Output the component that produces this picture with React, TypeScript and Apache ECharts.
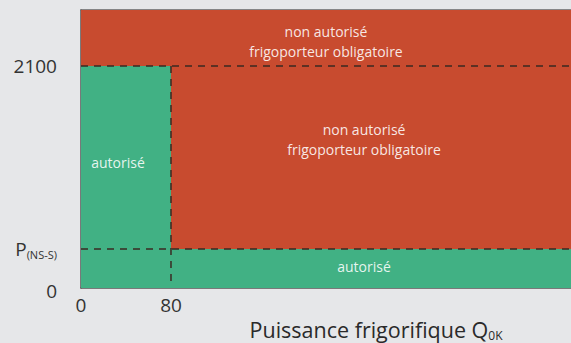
import React, { useEffect, useRef } from "react";
import * as echarts from "echarts";

// Axis extents
const xMax = 435.6;
const yMax = 2630;

// Tick values
const xTicks = [0, 80];
const yTicks = [0, 369, 2100];
const yTickLabels = ["{z|0}", "{p|P}{s|(NS-S)}", "2100"];

// Regions: [x0, y0, x1, y1, kind] kind 0 = non autorisé (red), 1 = autorisé (green)
const regions: number[][] = [
  [0, 0, xMax, yMax, 0],
  [0, 0, 80, 2100, 1],
  [0, 0, xMax, 369, 1],
];

// Dashed boundary lines: [x0, y0, x1, y1]
const dashedLines: number[][] = [
  [0, 2100, xMax, 2100],
  [0, 369, xMax, 369],
  [80, 2100, 80, 50],
];

// Region labels: [x, y]
const labelPoints: number[][] = [
  [217.8, 2332],
  [251.6, 1409],
  [32.9, 1192],
  [251.6, 199],
];
const labelTexts = [
  "non autorisé\nfrigoporteur obligatoire",
  "non autorisé\nfrigoporteur obligatoire",
  "autorisé",
  "autorisé",
];

const RED = "#c84b2f";
const GREEN = "#41b184";
const FONT = "'Open Sans', 'Noto Sans', sans-serif";

export default function App() {
  const ref = useRef<HTMLDivElement>(null);
  useEffect(() => {
    if (!ref.current) return;
    const chart = echarts.init(ref.current, undefined, { renderer: "svg" });
    chart.setOption({
      animation: false,
      backgroundColor: "#e6e7e9",
      grid: { left: 81, right: 0, top: 10, bottom: 55, containLabel: false, outerBoundsMode: "none" },
      xAxis: [
        {
          type: "value",
          min: 0,
          max: xMax,
          splitLine: { show: false },
          axisTick: { show: false },
          axisLine: { show: true, lineStyle: { color: "#555", width: 1.5 } },
          axisLabel: {
            customValues: xTicks,
            color: "#333",
            fontSize: 19,
            fontFamily: FONT,
            margin: 7,
            hideOverlap: false,
          },
          name: "{t|Puissance frigorifique Q}{s|0K}",
          nameLocation: "middle",
          nameGap: 29,
          nameTextStyle: {
            padding: [0, 0, 0, 100],
            rich: {
              t: { fontSize: 21.5, color: "#2a2a2a", fontFamily: FONT },
              s: { fontSize: 12, color: "#2a2a2a", fontFamily: FONT, padding: [11, 0, 0, 0] },
            },
          },
        },
        {
          type: "value",
          position: "top",
          min: 0,
          max: xMax,
          splitLine: { show: false },
          axisTick: { show: false },
          axisLabel: { show: false },
          axisLine: { show: true, lineStyle: { color: "#666", width: 1.5 } },
        },
      ],
      yAxis: {
        type: "value",
        min: 0,
        max: yMax,
        splitLine: { show: false },
        axisTick: { show: false },
        axisLine: { show: true, lineStyle: { color: "#555", width: 1.5 } },
        axisLabel: {
          customValues: yTicks,
          margin: 24,
          formatter: (v: number) => {
            const i = yTicks.indexOf(v);
            return i >= 0 ? yTickLabels[i] : "";
          },
          color: "#333",
          fontSize: 19,
          fontFamily: FONT,
          rich: {
            z: { fontSize: 19, color: "#333", fontFamily: FONT, padding: [6, 0, 0, 0] },
            p: { fontSize: 19, color: "#333", fontFamily: FONT },
            s: { fontSize: 11, color: "#333", fontFamily: FONT, padding: [12, 0, 0, 0] },
          },
        },
      },
      series: [
        {
          type: "custom",
          z: 1,
          renderItem: (params: any, api: any) => {
            const p0 = api.coord([api.value(0), api.value(1)]);
            const p1 = api.coord([api.value(2), api.value(3)]);
            return {
              type: "rect",
              shape: {
                x: Math.min(p0[0], p1[0]),
                y: Math.min(p0[1], p1[1]),
                width: Math.abs(p1[0] - p0[0]),
                height: Math.abs(p1[1] - p0[1]),
              },
              style: { fill: api.value(4) === 1 ? GREEN : RED },
            };
          },
          data: regions,
        },
        {
          type: "custom",
          z: 3,
          renderItem: (params: any, api: any) => {
            const p0 = api.coord([api.value(0), api.value(1)]);
            const p1 = api.coord([api.value(2), api.value(3)]);
            return {
              type: "line",
              shape: { x1: p0[0], y1: p0[1], x2: p1[0], y2: p1[1] },
              style: { stroke: "#3a2a22", lineWidth: 1.5, lineDash: [7, 6] },
            };
          },
          data: dashedLines,
        },
        {
          type: "custom",
          z: 4,
          renderItem: (params: any, api: any) => {
            const p = api.coord([api.value(0), api.value(1)]);
            return {
              type: "text",
              x: p[0],
              y: p[1],
              style: {
                text: labelTexts[params.dataIndex],
                fill: "rgba(255,255,255,0.88)",
                fontSize: 14,
                fontFamily: FONT,
                lineHeight: 20,
                align: "center",
                verticalAlign: "middle",
              },
            };
          },
          data: labelPoints,
        },
      ],
    });
    return () => chart.dispose();
  }, []);
  return (
    <div
      ref={ref}
      style={{ position: "fixed", left: 0, top: 0, width: 571, height: 343 }}
    />
  );
}
